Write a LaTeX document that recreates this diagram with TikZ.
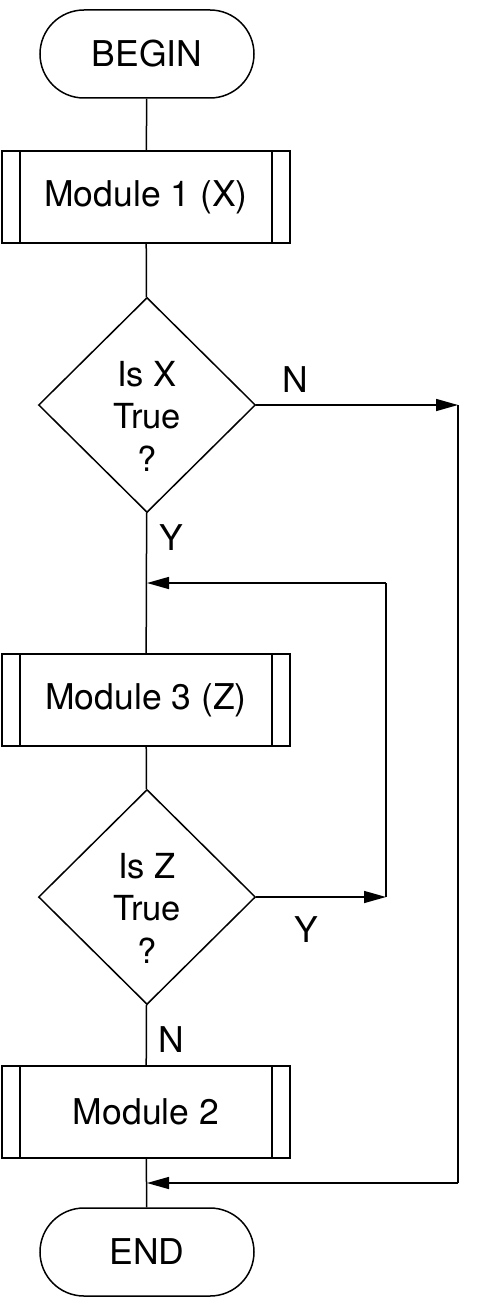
\documentclass[tikz,border=0pt]{standalone}
\usepackage{fontspec}
\setmainfont{TeX Gyre Heros}
\usetikzlibrary{arrows.meta,shapes.geometric}

\begin{document}
\begin{tikzpicture}[
                            x=1pt,
                            y=-1pt,
                            >={Triangle[length=22pt,width=12pt]},
                            line width=1.5pt,
                            font=\fontsize{35.5}{42}\selectfont
                        ]
                        \tikzstyle{terminal}=[draw,rectangle,rounded corners=44pt,minimum width=214pt,minimum height=88pt]
                        \tikzstyle{module}=[draw,rectangle,minimum width=288pt,minimum height=92pt,
                            path picture={
                                \draw ([xshift=18pt]path picture bounding box.north west) -- ([xshift=18pt]path picture bounding box.south west);
                                \draw ([xshift=-18pt]path picture bounding box.north east) -- ([xshift=-18pt]path picture bounding box.south east);
                            }]
                        \tikzstyle{decision}=[draw,diamond,inner sep=0pt,minimum width=217pt,minimum height=215pt]
                        \tikzstyle{question}=[align=center,font=\fontsize{34.5}{42.5}\selectfont]

                        \useasboundingbox (0,0) rectangle (476,1313);

                        \node[terminal] (begin) at (147,54)   {BEGIN};
                        \node[module]   (mod1)  at (146,197)  {Module 1 (X)};
                        \node[decision] (isx)   at (147,405)  {};
                        \node[question] (isxq)  at (147,416)  {Is X\\True\\?};
                        \node[module]   (mod3)  at (146,700)  {Module 3 (Z)};
                        \node[decision] (isz)   at (147,897)  {};
                        \node[question] (iszq)  at (147,908)  {Is Z\\True\\?};
                        \node[module]   (mod2)  at (146,1112) {Module 2};
                        \node[terminal] (end)   at (147,1252) {END};

                        \coordinate (loopin)  at (147,583);
                        \coordinate (loopup)  at (386,583);
                        \coordinate (loopdn)  at (386,897);
                        \coordinate (skiptop) at (458,405);
                        \coordinate (skipbot) at (458,1183);
                        \coordinate (skipin)  at (147,1183);

                        \node (nx) at (295,380)  {N};
                        \node (yx) at (171,538)  {Y};
                        \node (yz) at (306,930)  {Y};
                        \node (nz) at (171,1040) {N};

                        \draw (begin) -- (mod1);
                        \draw (mod1) -- (isx);
                        \draw (isx) -- (mod3);
                        \draw (mod3) -- (isz);
                        \draw (isz) -- (mod2);
                        \draw (mod2) -- (end);

                        \draw[->] (isx.east) -- (skiptop);
                        \draw (skiptop) -- (skipbot);
                        \draw[->] (skipbot) -- (skipin);

                        \draw[->] (isz.east) -- (loopdn);
                        \draw (loopdn) -- (loopup);
                        \draw[->] (loopup) -- (loopin);
                    \end{tikzpicture}
\end{document}
